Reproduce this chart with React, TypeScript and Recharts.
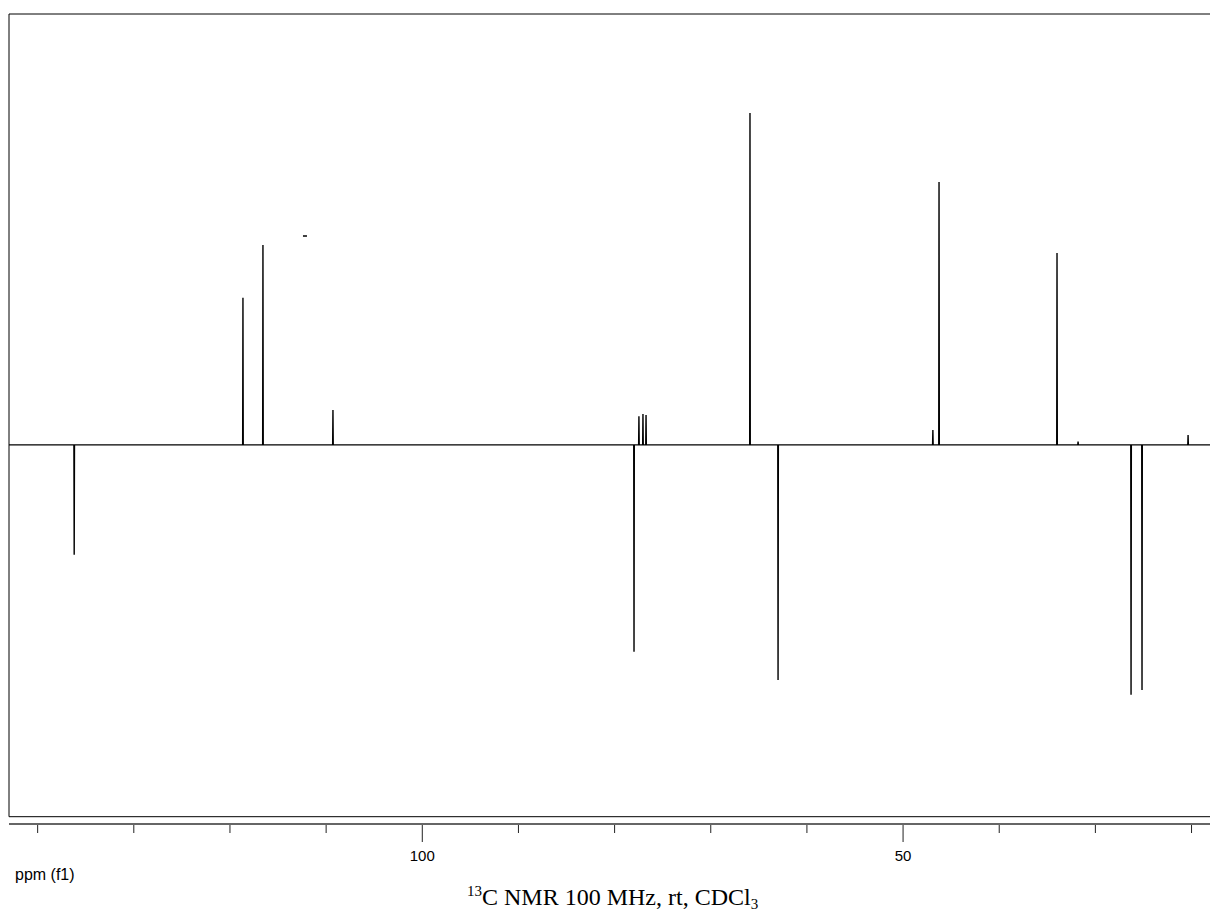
import React from 'react'
import { ComposedChart, Line, Scatter, XAxis, YAxis, ReferenceArea } from 'recharts'

// 13C DEPT-style spectrum: positive / negative peaks
// shift in ppm, intensity relative to the tallest peak (= 100)
const peakShifts = [136.2, 118.65, 116.57, 109.29, 77.98, 77.47, 77.05, 76.73, 65.92, 63.0, 46.9, 46.26, 33.99, 31.8, 26.29, 25.15, 20.36]
const peakHeights = [-33.1, 44.3, 60.2, 10.5, -62.3, 8.6, 9.3, 9.0, 100, -70.8, 4.5, 79.2, 57.8, 1.0, -75.3, -73.8, 3.0]

// stray dot above the baseline
const artifactShifts = [112.2]
const artifactHeights = [63.0]

const ppmTicks = [140, 130, 120, 110, 100, 90, 80, 70, 60, 50, 40, 30, 20]
const labelledTicks = [100, 50]

const PPM_MAX = 142.98
const PPM_MIN = 17.04
const Y_MIN = -114.2
const Y_MAX = 129.8
const BOX_BOTTOM = -112

const spectrum: { ppm: number; i: number }[] = [{ ppm: PPM_MAX, i: 0 }]
peakShifts.forEach((s, k) => {
  spectrum.push({ ppm: s + 0.03, i: 0 }, { ppm: s, i: peakHeights[k] }, { ppm: s - 0.03, i: 0 })
})
spectrum.push({ ppm: PPM_MIN, i: 0 })

const artifacts = artifactShifts.map((s, k) => ({ ppm: s, i: artifactHeights[k] }))

function PpmTick(props: any) {
  const { x, y, payload } = props
  const major = labelledTicks.includes(payload.value)
  return (
    <g>
      <line x1={x} x2={x} y1={y + 1} y2={y + (major ? 18 : 9)} stroke="#222" strokeWidth={1} />
      {major && (
        <text x={x} y={y + 37} textAnchor="middle" fontSize={15} fill="#000" fontFamily="'Liberation Sans', Arial, sans-serif">
          {payload.value}
        </text>
      )}
    </g>
  )
}

const Dash = (props: any) => <rect x={props.cx - 2} y={props.cy - 0.5} width={4} height={1.5} fill="#000" />

export default function App() {
  return (
    <div style={{ position: 'absolute', top: 8, left: 8, width: 1202, height: 905, overflow: 'hidden' }}>
      <ComposedChart width={1212} height={904} margin={{ top: 6, right: 0, left: 1, bottom: 0 }}>
        <XAxis
          type="number"
          dataKey="ppm"
          domain={[PPM_MIN, PPM_MAX]}
          reversed
          allowDataOverflow
          ticks={ppmTicks}
          interval={0}
          tickSize={0}
          tickMargin={0}
          tickLine={false}
          axisLine={{ stroke: '#333', strokeWidth: 1.5 }}
          tick={<PpmTick />}
          height={88}
        />
        <YAxis type="number" dataKey="i" domain={[Y_MIN, Y_MAX]} allowDataOverflow hide />
        <ReferenceArea x1={PPM_MAX} x2={PPM_MIN} y1={BOX_BOTTOM} y2={Y_MAX} fill="none" stroke="#000" strokeWidth={1} ifOverflow="visible" />
        <Line
          data={spectrum}
          dataKey="i"
          type="linear"
          stroke="#000"
          strokeWidth={1.4}
          dot={false}
          activeDot={false}
          isAnimationActive={false}
        />
        <Scatter data={artifacts} dataKey="i" shape={<Dash />} isAnimationActive={false} />
      </ComposedChart>
      <div style={{ position: 'absolute', left: 7, top: 859, fontFamily: "'Liberation Sans', Arial, sans-serif", fontSize: 16, lineHeight: '16px', whiteSpace: 'nowrap' }}>
        ppm (f1)
      </div>
      <div style={{ position: 'absolute', left: 459, top: 877, fontFamily: "'Liberation Serif', 'Times New Roman', serif", fontSize: 24, lineHeight: '24px', whiteSpace: 'nowrap' }}>
        <span style={{ fontSize: 15, position: 'relative', top: -9 }}>13</span>C NMR 100 MHz, rt, CDCl
        <span style={{ fontSize: 15, position: 'relative', top: 4 }}>3</span>
      </div>
    </div>
  )
}
